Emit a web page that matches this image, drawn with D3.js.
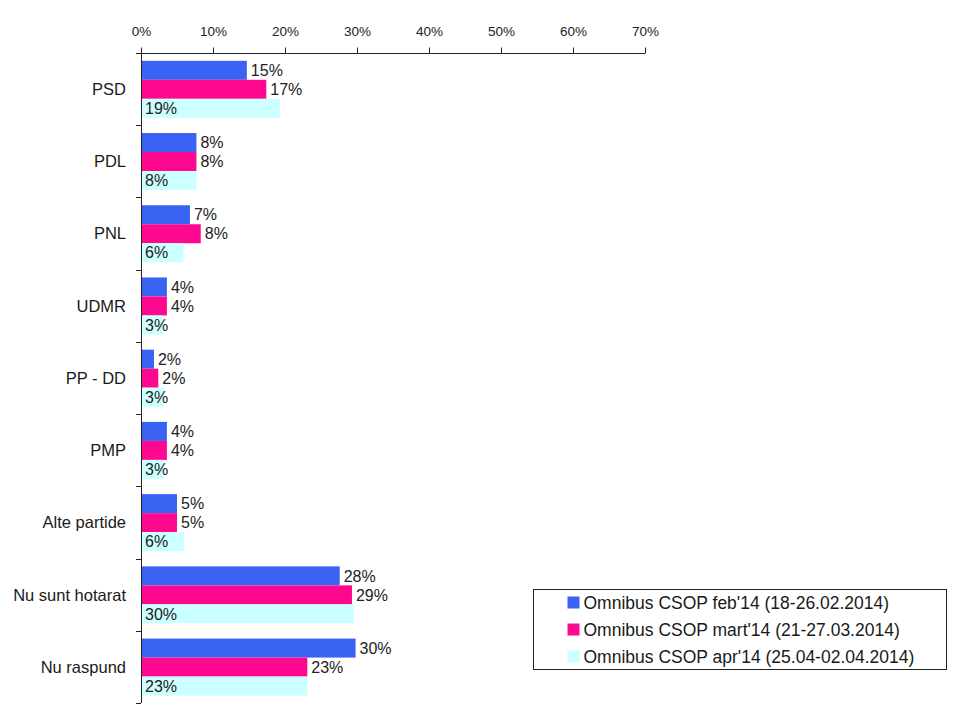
<!DOCTYPE html>
<html>
<head>
<meta charset="utf-8">
<script src="https://cdn.jsdelivr.net/npm/d3@7"></script>
<style>
  body { margin: 0; background: #fff; }
  #svgContainer { width: 970px; height: 709px; }
</style>
</head>
<body>
<div id="svgContainer"></div>
<script>
const categories = ["PSD", "PDL", "PNL", "UDMR", "PP - DD", "PMP", "Alte partide", "Nu sunt hotarat", "Nu raspund"];
const seriesNames = [
  "Omnibus CSOP feb'14 (18-26.02.2014)",
  "Omnibus CSOP mart'14 (21-27.03.2014)",
  "Omnibus CSOP apr'14 (25.04-02.04.2014)"
];
const feb = [14.7, 7.7, 6.8, 3.6, 1.8, 3.6, 5.0, 27.6, 29.8];
const mart = [17.4, 7.7, 8.3, 3.6, 2.4, 3.6, 5.0, 29.3, 23.1];
const apr = [19.3, 7.7, 5.9, 3.0, 3.2, 3.1, 6.0, 29.6, 23.1];
const xTicks = [0, 10, 20, 30, 40, 50, 60, 70];
const colors = ["#3a63f4", "#ff0890", "#ccffff"];

const series = [feb, mart, apr];

const width = 970;
const height = 709;
const svg = d3.select("#svgContainer").append("svg")
  .attr("width", width)
  .attr("height", height);

const fontFamily = "'Liberation Sans', Arial, sans-serif";

// Scales
const x = d3.scaleLinear().domain([0, 70]).range([141, 645]);
const y0 = d3.scaleBand().domain(categories).range([53, 703]);
const y1 = d3.scaleBand().domain([0, 1, 2]).range([7.8, 64.8]);

// Bars
const groups = svg.append("g").selectAll("g")
  .data(categories)
  .join("g")
  .attr("transform", d => `translate(0, ${y0(d)})`);

const fmt = v => d3.format(".0f")(v) + "%";

groups.each(function(cat, ci) {
  const g = d3.select(this);
  for (let s = 0; s < series.length; s++) {
    const v = series[s][ci];
    g.append("rect")
      .attr("x", x(0))
      .attr("y", y1(s))
      .attr("width", x(v) - x(0))
      .attr("height", y1.bandwidth())
      .attr("fill", colors[s]);
    // Last series has its label inside, at the start of the bar
    const lx = s === 2 ? x(0) + 4 : x(v) + 4;
    g.append("text")
      .attr("x", lx)
      .attr("y", y1(s) + y1.bandwidth() / 2)
      .attr("dy", "0.36em")
      .attr("font-family", fontFamily)
      .attr("font-size", "16px")
      .attr("fill", "#222")
      .text(fmt(v));
  }
});

// X axis on top
const xAxis = svg.append("g")
  .attr("transform", `translate(0, 53.5)`)
  .call(d3.axisTop(x).tickValues(xTicks).tickSize(6).tickPadding(12)
    .tickFormat(d => d + "%"));
xAxis.select(".domain").attr("stroke", "#222").attr("d", `M${x(0)},0H${x(70)}`);
xAxis.selectAll(".tick line").attr("stroke", "#222");
xAxis.selectAll("text")
  .attr("font-family", fontFamily)
  .attr("font-size", "13.5px")
  .attr("fill", "#222");

// Y axis: line with ticks at the category boundaries
const yLine = svg.append("g").attr("stroke", "#222").attr("stroke-width", 1);
yLine.append("line")
  .attr("x1", x(0) + 0.5).attr("x2", x(0) + 0.5)
  .attr("y1", y0.range()[0]).attr("y2", y0.range()[1]);
const bounds = categories.map(c => y0(c)).concat([y0.range()[1]]);
yLine.selectAll(".ytick")
  .data(bounds)
  .join("line")
  .attr("x1", x(0) - 5).attr("x2", x(0))
  .attr("y1", d => Math.round(d) + 0.5).attr("y2", d => Math.round(d) + 0.5);

// Category labels
svg.append("g").selectAll("text")
  .data(categories)
  .join("text")
  .attr("x", 126)
  .attr("y", d => y0(d) + y0.bandwidth() / 2)
  .attr("dy", "0.36em")
  .attr("text-anchor", "end")
  .attr("font-family", fontFamily)
  .attr("font-size", "16.5px")
  .attr("fill", "#1a1a1a")
  .text(d => d);

// Legend
const legend = svg.append("g").attr("transform", "translate(533.5, 589.5)");
legend.append("rect")
  .attr("width", 413)
  .attr("height", 80)
  .attr("fill", "#fff")
  .attr("stroke", "#222");
seriesNames.forEach((name, i) => {
  const row = legend.append("g").attr("transform", `translate(0, ${13.5 + i * 27})`);
  row.append("rect")
    .attr("x", 34).attr("y", -6.5)
    .attr("width", 12).attr("height", 12)
    .attr("fill", colors[i]);
  row.append("text")
    .attr("x", 50)
    .attr("y", 0)
    .attr("dy", "0.36em")
    .attr("font-family", fontFamily)
    .attr("font-size", "17.5px")
    .attr("fill", "#1a1a1a")
    .text(name);
});
</script>
</body>
</html>
